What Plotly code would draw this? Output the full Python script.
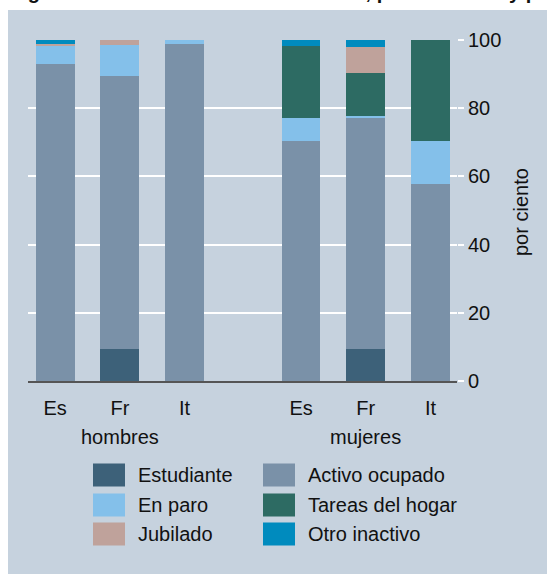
import plotly.graph_objects as go

# categories
paises = ["Es", "Fr", "It", "Es", "Fr", "It"]
x_pos = [0, 1, 2, 3.8, 4.8, 5.8]
grupos = ["hombres", "mujeres"]
grupo_pos = [1, 4.8]

# series values (por ciento)
estudiante = [0, 9.3, 0, 0, 9.3, 0]
activo = [93.0, 80.1, 98.8, 70.4, 67.7, 57.8]
en_paro = [5.3, 9.1, 1.2, 6.6, 0.8, 12.7]
tareas = [0, 0, 0, 21.3, 12.6, 29.5]
jubilado = [0.5, 1.5, 0, 0, 7.6, 0]
otro = [1.2, 0, 0, 1.7, 2.0, 0]

series = [
    ("Estudiante", estudiante, "#3D6179"),
    ("Activo ocupado", activo, "#7A91A8"),
    ("En paro", en_paro, "#84C0EA"),
    ("Tareas del hogar", tareas, "#2D6B63"),
    ("Jubilado", jubilado, "#BFA29B"),
    ("Otro inactivo", otro, "#008BBE"),
]

W, H = 547, 574
# plot area in page pixels: x 28..457, y 40..381
L, T = 28, 40
R = W - 457
B = H - 381
PW, PH = W - L - R, H - T - B
BG = "#C6D2DE"
FONT = "Liberation Sans, Arial, sans-serif"
FS = 20


def px_x(px):
    return (px - L) / PW


def px_y(py):
    return (H - B - py) / PH


fig = go.Figure()
for name, vals, color in series:
    fig.add_trace(go.Bar(x=x_pos, y=vals, name=name, width=0.6,
                         marker=dict(color=color, line=dict(width=0)),
                         showlegend=False, hoverinfo="skip"))

shapes = [dict(type="rect", xref="paper", yref="paper",
               x0=px_x(8), x1=px_x(W + 20), y0=px_y(10), y1=px_y(H + 20),
               fillcolor=BG, line=dict(width=0), layer="below")]
annotations = []

# group labels
for g, gx in zip(grupos, grupo_pos):
    annotations.append(dict(x=gx, y=px_y(437), xref="x", yref="paper", text=g,
                            xanchor="center", yanchor="middle",
                            showarrow=False, font=dict(size=FS, color="#111")))

# y axis title
annotations.append(dict(x=px_x(521), y=px_y(212), xref="paper", yref="paper",
                        xanchor="center", yanchor="middle",
                        text="por ciento", textangle=-90, showarrow=False,
                        font=dict(size=FS, color="#111")))

# title, mostly cut off at the top of the page
annotations.append(dict(x=px_x(8), y=px_y(5), xref="paper", yref="paper",
                        xanchor="left", yanchor="bottom",
                        text="<b>Figura 2. Situación laboral de adultos, por titulación y país</b>",
                        showarrow=False, font=dict(size=FS, color="#111")))

# legend drawn by hand (two columns, three rows)
col_x = [93, 263]
row_y = [475, 505, 534]
for i, (name, vals, color) in enumerate(series):
    cx = col_x[i % 2]
    cy = row_y[i // 2]
    shapes.append(dict(type="rect", xref="paper", yref="paper",
                       x0=px_x(cx), x1=px_x(cx + 32),
                       y0=px_y(cy + 11.5), y1=px_y(cy - 11.5),
                       fillcolor=color, line=dict(width=0)))
    annotations.append(dict(x=px_x(cx + 43), y=px_y(cy), xref="paper", yref="paper",
                            xanchor="left", yanchor="middle", text=name,
                            showarrow=False, font=dict(size=FS, color="#111")))

fig.update_layout(
    width=W, height=H,
    margin=dict(l=L, r=R, t=T, b=B),
    paper_bgcolor=BG,
    plot_bgcolor="rgba(0,0,0,0)",
    barmode="stack",
    bargap=0,
    font=dict(family=FONT, size=FS, color="#111"),
    shapes=shapes,
    annotations=annotations,
    xaxis=dict(range=[-0.42, 6.21], tickvals=x_pos, ticktext=paises,
               showgrid=False, zeroline=False, ticks="",
               showline=True, linecolor="#555", linewidth=1.5,
               ticklabelstandoff=8, tickfont=dict(size=FS)),
    yaxis=dict(range=[0, 100], side="right", tickvals=[0, 20, 40, 60, 80, 100],
               showgrid=True, gridcolor="white", gridwidth=1.5,
               zeroline=False, ticks="outside", ticklen=6, tickcolor="white",
               tickwidth=1.5, tickfont=dict(size=FS), showline=False),
)
# white strips above and left of the panel
fig.add_shape(type="rect", xref="paper", yref="paper",
              x0=px_x(-5), x1=px_x(W + 5), y0=px_y(10), y1=px_y(-5),
              fillcolor="white", line=dict(width=0), layer="below")
fig.add_shape(type="rect", xref="paper", yref="paper",
              x0=px_x(-5), x1=px_x(8), y0=px_y(H + 5), y1=px_y(-5),
              fillcolor="white", line=dict(width=0), layer="below")

# figure sits at the page corner, like the reference
fig.write_html("out.html", config={"displayModeBar": False},
               post_script="document.body.style.margin = '0';"
                           "document.body.style.overflow = 'hidden';"
                           "document.body.style.background = '" + BG + "';")
